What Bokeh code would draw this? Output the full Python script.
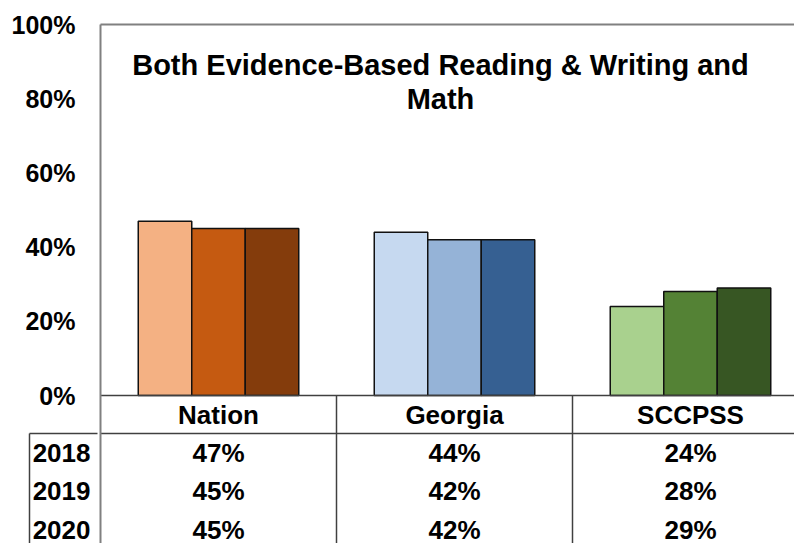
from bokeh.plotting import figure
from bokeh.models import (ColumnDataSource, Range1d, FixedTicker, PrintfTickFormatter,
                          LinearAxis, Label)
from bokeh.core.properties import value
from bokeh.transform import dodge
from bokeh.embed import file_html
from bokeh.resources import INLINE

# ---- data ----
categories = ["Nation", "Georgia", "SCCPSS"]
years = ["2018", "2019", "2020"]
pct_2018 = [47, 44, 24]
pct_2019 = [45, 42, 28]
pct_2020 = [45, 42, 29]
colors_2018 = ["#F4B183", "#C6D9F0", "#A9D18E"]
colors_2019 = ["#C55A11", "#95B3D7", "#548235"]
colors_2020 = ["#843C0C", "#366092", "#375623"]
y_ticks = [0, 20, 40, 60, 80, 100]
title_lines = ["Both Evidence-Based Reading & Writing and", "Math"]

series = [pct_2018, pct_2019, pct_2020]
series_colors = [colors_2018, colors_2019, colors_2020]

# ---- layout ----
W, H = 794, 543
LEFT, TOP = 100, 24
CAT_PX = 236.0
PX_PER_PCT = 3.71
ZERO_PX = 395
frame_w = W - LEFT
frame_h = H - TOP
x_end = frame_w / CAT_PX
y_bottom = 100 - frame_h / PX_PER_PCT


def ypx(py):
    return (ZERO_PX - py) / PX_PER_PCT


FONT = value("Liberation Sans")
LINE = "#404040"
GRAY = "#808080"

p = figure(width=W, height=H, x_range=Range1d(0, x_end), y_range=Range1d(y_bottom, 100),
           output_backend="svg", toolbar_location=None, x_axis_location=None,
           y_axis_location=None,
           min_border_left=LEFT, min_border_right=0, min_border_top=TOP, min_border_bottom=0)
p.outline_line_color = None
p.xgrid.visible = False
p.ygrid.visible = False

header_line = ypx(433)
header_mid = ypx(414)
row_mid = [ypx(452), ypx(490), ypx(529)]

YEAR_STANDOFF = 10
YEAR_COL_W = 68

# inner left axis: year labels of the table + frame's left border
year_axis = LinearAxis(
    ticker=FixedTicker(ticks=row_mid),
    major_label_overrides={t: yr for t, yr in zip(row_mid, years)},
    axis_line_color=GRAY, axis_line_width=2,
    major_tick_line_color=None, major_tick_in=0, major_tick_out=0,
    minor_tick_line_color=None, minor_tick_in=0, minor_tick_out=0,
    major_label_standoff=YEAR_STANDOFF,
    major_label_text_font="Liberation Sans", major_label_text_font_size="26px",
    major_label_text_font_style="bold", major_label_text_color="#000000")
p.add_layout(year_axis, "left")

# middle axis: left border + top border of the year column
box_axis = LinearAxis(
    ticker=FixedTicker(ticks=[], minor_ticks=[header_line]),
    bounds=(y_bottom - 5, header_line + 0.05),
    axis_line_color=LINE, axis_line_width=1.5,
    major_tick_line_color=None, major_tick_in=0, major_tick_out=0,
    minor_tick_line_color=LINE, minor_tick_line_width=1.5,
    minor_tick_in=YEAR_COL_W, minor_tick_out=0,
    major_label_standoff=0, major_label_text_font_size="0px")
p.add_layout(box_axis, "left")

# outer axis: percentage scale
pct_axis = LinearAxis(
    ticker=FixedTicker(ticks=y_ticks), formatter=PrintfTickFormatter(format="%d%%"),
    axis_line_color=None, major_tick_line_color=None, minor_tick_line_color=None,
    major_tick_in=0, major_tick_out=0, minor_tick_in=0, minor_tick_out=0,
    major_label_standoff=-46,
    major_label_text_font="Liberation Sans", major_label_text_font_size="25px",
    major_label_text_font_style="bold", major_label_text_color="#000000")
p.add_layout(pct_axis, "left")

top_ax = LinearAxis(ticker=FixedTicker(ticks=[]), axis_line_color=GRAY, axis_line_width=2,
                    major_tick_line_color=None, minor_tick_line_color=None,
                    major_tick_out=0, major_label_standoff=0,
                    major_label_text_font_size="0px")
p.add_layout(top_ax, "above")

# ---- bars ----
bw = 53.5 / CAT_PX
centers = [i + 0.5 for i in range(len(categories))]
for j, (vals, cols) in enumerate(zip(series, series_colors)):
    src = ColumnDataSource(dict(x=centers, top=vals, color=cols))
    p.vbar(x=dodge("x", (j - 1) * bw, range=p.x_range), top="top", bottom=0, width=bw,
           fill_color="color", line_color="#111111", line_width=1.5, source=src)

# ---- table ----
p.segment(x0=[0, 0], y0=[0, header_line], x1=[x_end, x_end], y1=[0, header_line],
          line_color=LINE, line_width=1.5)
p.segment(x0=[1, 2], y0=[0, 0], x1=[1, 2], y1=[y_bottom, y_bottom],
          line_color=LINE, line_width=1.5)

p.text(x=centers, y=[header_mid] * 3, text=categories, text_align="center",
       text_baseline="middle", text_font=FONT, text_font_size="26px",
       text_font_style="bold", text_color="#000000")
for yy, vals in zip(row_mid, series):
    p.text(x=centers, y=[yy] * 3, text=[f"{v}%" for v in vals], text_align="center",
           text_baseline="middle", text_font=FONT, text_font_size="26px",
           text_font_style="bold", text_color="#000000")

# ---- title ----
title_x = (440 - LEFT) / CAT_PX
for yy, t in zip([ypx(64.5), ypx(98.5)], title_lines):
    p.add_layout(Label(x=title_x, y=yy, text=t, text_align="center", text_baseline="middle",
                       text_font="Liberation Sans", text_font_size="29px",
                       text_font_style="bold", text_color="#000000"))

open("out.html", "w").write(file_html(p, INLINE))
